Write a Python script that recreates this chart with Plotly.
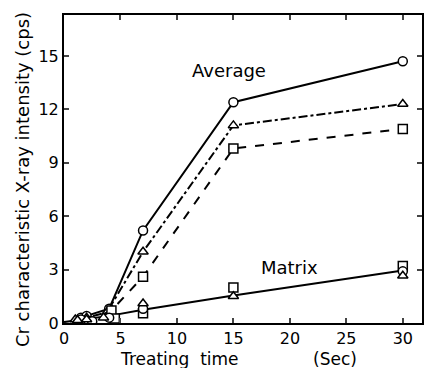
import plotly.graph_objects as go

# Average (surface) intensity
avg_circle_x = [1.5, 2.0, 4.0, 7.0, 15.0, 30.0]
avg_circle_y = [0.3, 0.4, 0.8, 5.2, 12.4, 14.7]
avg_tri_x = [1.0, 2.0, 3.8, 7.0, 15.0, 30.0]
avg_tri_y = [0.2, 0.3, 0.6, 4.0, 11.1, 12.3]
avg_sq_x = [2.0, 4.2, 7.0, 15.0, 30.0]
avg_sq_y = [0.1, 0.7, 2.6, 9.8, 10.9]

# Matrix intensity
mat_line_x = [0.0, 4.0, 7.0, 15.0, 30.0]
mat_line_y = [0.05, 0.4, 0.75, 1.55, 2.95]
mat_circle_x = [1.5, 2.5, 4.0, 7.0, 30.0]
mat_circle_y = [0.2, 0.1, 0.3, 0.8, 2.9]
mat_tri_x = [1.2, 2.0, 3.5, 7.0, 15.0, 30.0]
mat_tri_y = [0.15, 0.2, 0.3, 1.1, 1.5, 2.65]
mat_sq_x = [2.2, 4.5, 7.0, 15.0, 30.0]
mat_sq_y = [0.05, 0.25, 0.55, 2.0, 3.2]

x_ticks = [0, 5, 10, 15, 20, 25, 30]
y_ticks = [0, 3, 6, 9, 12, 15]

fig = go.Figure()
line_w = 2

def mk(sym):
    return dict(symbol=sym, size=9, color="white", line=dict(color="black", width=1.5))

fig.add_trace(go.Scatter(x=mat_line_x, y=mat_line_y, mode="lines",
                         line=dict(color="black", width=line_w)))
fig.add_trace(go.Scatter(x=avg_circle_x, y=avg_circle_y, mode="lines+markers",
                         line=dict(color="black", width=line_w), marker=mk("circle")))
fig.add_trace(go.Scatter(x=avg_tri_x, y=avg_tri_y, mode="lines+markers",
                         line=dict(color="black", width=line_w, dash="dashdot"), marker=mk("triangle-up")))
fig.add_trace(go.Scatter(x=avg_sq_x, y=avg_sq_y, mode="lines+markers",
                         line=dict(color="black", width=line_w, dash="dash"), marker=mk("square")))
fig.add_trace(go.Scatter(x=mat_sq_x, y=mat_sq_y, mode="markers", marker=mk("square")))
fig.add_trace(go.Scatter(x=mat_circle_x, y=mat_circle_y, mode="markers", marker=mk("circle")))
fig.add_trace(go.Scatter(x=mat_tri_x, y=mat_tri_y, mode="markers", marker=mk("triangle-up")))

font = "DejaVu Sans"
fig.add_annotation(x=14.6, y=14.2, text="Average", showarrow=False,
                   font=dict(family=font, size=18, color="black"))
fig.add_annotation(x=20.0, y=3.1, text="Matrix", showarrow=False,
                   font=dict(family=font, size=18, color="black"))
# x-axis title, in two parts as in the original
fig.add_annotation(x=10.2, y=0, yref="paper", yanchor="middle", yshift=-36,
                   text="Treating  time", showarrow=False,
                   font=dict(family=font, size=17, color="black"))
fig.add_annotation(x=24.0, y=0, yref="paper", yanchor="middle", yshift=-36,
                   text="(Sec)", showarrow=False,
                   font=dict(family=font, size=17, color="black"))
# y-axis title
fig.add_annotation(x=0, xref="paper", xanchor="center", xshift=-42,
                   y=0.464, yref="paper", yanchor="middle", textangle=-90,
                   text="Cr characteristic X-ray intensity (cps)", showarrow=False,
                   font=dict(family=font, size=18, color="black"))

# page body has an 8px margin, so the figure is sized and offset to fit
fig.update_layout(
    width=424, height=360,
    margin=dict(l=56, r=10, t=7, b=45),
    paper_bgcolor="white", plot_bgcolor="white",
    showlegend=False,
    font=dict(family=font, size=16, color="black"),
)
fig.update_xaxes(range=[0, 31.7], tickvals=x_ticks, ticks="inside", ticklen=5,
                 tickwidth=1.5, showline=True, linecolor="black", linewidth=2,
                 mirror="ticks", showgrid=False, zeroline=False, automargin=False)
fig.update_yaxes(range=[0, 17.3], tickvals=y_ticks, ticks="inside", ticklen=5,
                 tickwidth=1.5, showline=True, linecolor="black", linewidth=2,
                 mirror="ticks", showgrid=False, zeroline=False, automargin=False)

fig.write_html("out.html")
